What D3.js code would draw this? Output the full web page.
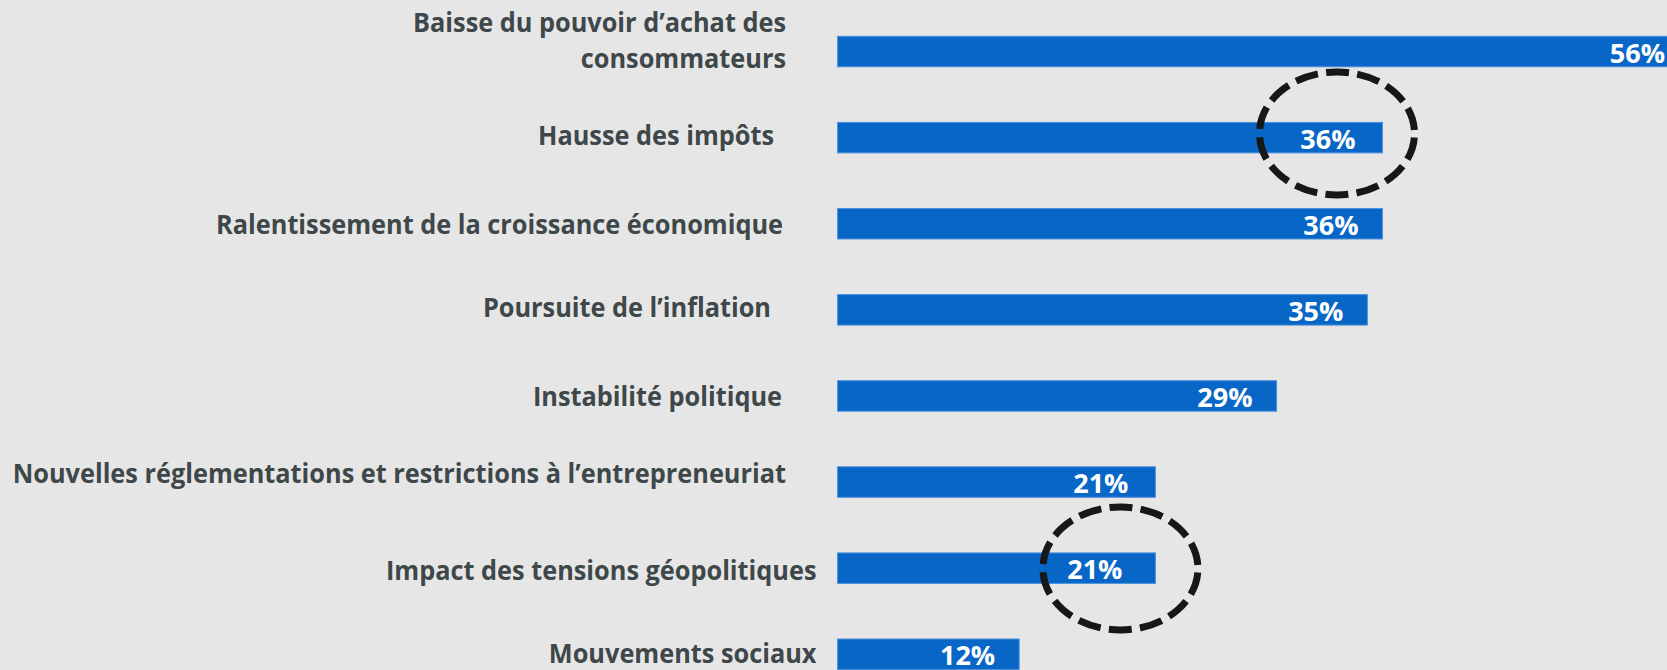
<!DOCTYPE html>
<html>
<head>
<meta charset="utf-8">
<script src="https://cdn.jsdelivr.net/npm/d3@7"></script>
<style>
  html, body { margin: 0; padding: 0; background: #e6e6e6; overflow: hidden; }
  svg { display: block; }
</style>
</head>
<body>
<div id="chart"></div>
<script>
// ---------- data ----------
const categories = [
  "Baisse du pouvoir d’achat des consommateurs",
  "Hausse des impôts",
  "Ralentissement de la croissance économique",
  "Poursuite de l’inflation",
  "Instabilité politique",
  "Nouvelles réglementations et restrictions à l’entrepreneuriat",
  "Impact des tensions géopolitiques",
  "Mouvements sociaux"
];
const values = [56, 36, 36, 35, 29, 21, 21, 12];
const valueLabels = ["56%", "36%", "36%", "35%", "29%", "21%", "21%", "12%"];
const labelLines = [
  ["Baisse du pouvoir d’achat des", "consommateurs"],
  ["Hausse des impôts"],
  ["Ralentissement de la croissance économique"],
  ["Poursuite de l’inflation"],
  ["Instabilité politique"],
  ["Nouvelles réglementations et restrictions à l’entrepreneuriat"],
  ["Impact des tensions géopolitiques"],
  ["Mouvements sociaux"]
];
const highlighted = ["Hausse des impôts", "Impact des tensions géopolitiques"];

// ---------- layout ----------
const W = 1667, H = 670;
const labelEndDx = [-51.5, -63.5, -54.5, -66.5, -55.5, -51.5, -21, -21];
const labelBaseDy = [[-19.2, 16.2], [7.5], [10.5], [6.7], [9.7], [0.9], [12], [9]];
const valueInset = [2, 27, 24, 24, 24, 27, 33, 24];
const ellipseOffset = {"Hausse des impôts": [-45.5, -4.2], "Impact des tensions géopolitiques": [-35, 0.3]};

const svg = d3.select("#chart").append("svg")
  .attr("width", W).attr("height", H);
svg.append("rect").attr("width", W).attr("height", H).attr("fill", "#e6e6e6");

const x = d3.scaleLinear().domain([0, 56]).range([837.5, 1685.3]);
const y = d3.scaleBand().domain(categories).range([36.3, 669.5])
  .paddingInner(0.6458).paddingOuter(0);

const rows = categories.map((c, i) => ({c, i, v: values[i], lab: valueLabels[i]}));

// bars
svg.append("g").selectAll("rect").data(rows).join("rect")
  .attr("x", x(0))
  .attr("y", d => y(d.c))
  .attr("width", d => x(d.v) - x(0))
  .attr("height", y.bandwidth())
  .attr("fill", "#0866c7")
  .attr("stroke", "#4d92dc")
  .attr("stroke-width", 1);

// value labels
svg.append("g").selectAll("text").data(rows).join("text")
  .attr("x", d => Math.min(x(d.v), W) - valueInset[d.i])
  .attr("y", d => y(d.c) + y.bandwidth() / 2 + 11)
  .attr("text-anchor", "end")
  .attr("fill", "#ffffff")
  .attr("font-family", "'Open Sans', 'Noto Sans', sans-serif")
  .attr("font-weight", 700)
  .attr("font-size", 27)
  .text(d => d.lab);

// category labels
const lg = svg.append("g");
const labelTexts = [];
rows.forEach(d => {
  labelLines[d.i].forEach((line, k) => {
    const t = lg.append("text")
      .attr("text-anchor", "end")
      .attr("fill", "#3e4749")
      .attr("font-family", "'Open Sans', 'Noto Sans', sans-serif")
      .attr("font-weight", 700)
      .attr("font-size", 27)
      .text(line);
    labelTexts.push({t, xe: x(0) + labelEndDx[d.i], yb: y(d.c) + y.bandwidth() / 2 + labelBaseDy[d.i][k]});
  });
});
// horizontally condense labels to the reference's narrow face
const longest = d3.max(labelTexts, o => o.t.node().getComputedTextLength());
const sx = 774 / longest;
labelTexts.forEach(o => o.t.attr("transform", `translate(${o.xe},${o.yb}) scale(${sx},1)`));

// dashed ellipses
svg.append("g").selectAll("ellipse").data(rows.filter(d => highlighted.includes(d.c))).join("ellipse")
  .attr("cx", d => x(d.v) + ellipseOffset[d.c][0])
  .attr("cy", d => y(d.c) + y.bandwidth() / 2 + ellipseOffset[d.c][1])
  .attr("rx", 77.5)
  .attr("ry", 61.5)
  .attr("fill", "none")
  .attr("stroke", "#171717")
  .attr("stroke-width", 7)
  .attr("stroke-dasharray", "23,8.3")
  .attr("stroke-dashoffset", -4.1);
</script>
</body>
</html>
